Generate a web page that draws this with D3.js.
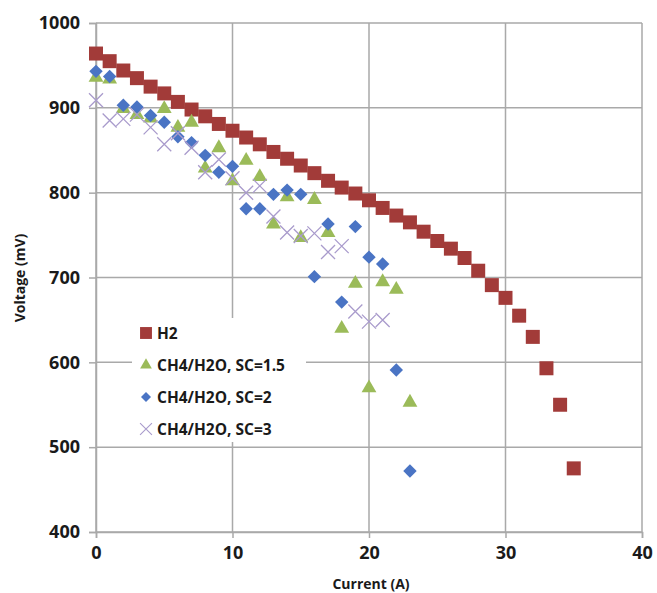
<!DOCTYPE html>
<html>
<head>
<meta charset="utf-8">
<script src="https://cdn.jsdelivr.net/npm/d3@7/dist/d3.min.js"></script>
<style>
  html, body { margin: 0; padding: 0; background: #fff; }
  svg { display: block; }
</style>
</head>
<body>
<svg id="chart" width="657" height="593"></svg>
<script>
// ---- data ----
const h2X = d3.range(0, 36);
const h2V = [964, 955, 944, 935, 925, 917, 907, 898, 890, 881, 873, 865, 857, 848, 840, 832, 823, 814, 806, 799, 791, 782, 773, 765, 754, 743, 734, 723, 708, 691, 676, 655, 630, 593, 550, 475];

const sc15X = d3.range(0, 24);
const sc15V = [937, 935, 900, 893, 889, 900, 878, 884, 830, 854, 815, 839, 820, 764, 796, 748, 793, 754, 641, 694, 571, 696, 687, 554];

const sc2X = d3.range(0, 24);
const sc2V = [943, 937, 903, 901, 891, 883, 866, 859, 844, 824, 831, 781, 781, 798, 803, 798, 701, 763, 671, 760, 724, 716, 591, 472];

const sc3X = d3.range(0, 22);
const sc3V = [909, 885, 887, 892, 877, 857, 870, 853, 824, 839, 817, 800, 808, 772, 753, 749, 752, 730, 737, 660, 648, 650];

const seriesNames = ["H2", "CH4/H2O, SC=1.5", "CH4/H2O, SC=2", "CH4/H2O, SC=3"];
const xTicks = [0, 10, 20, 30, 40];
const yTicks = [400, 500, 600, 700, 800, 900, 1000];

// ---- layout ----
const W = 657, H = 593;
const m = { left: 96, right: 15, top: 23, bottom: 61 };
const svg = d3.select("#chart");

const x = d3.scaleLinear().domain([0, 40]).range([m.left, W - m.right]);
const y = d3.scaleLinear().domain([400, 1000]).range([H - m.bottom, m.top]);

const gridColor = "#a9a9a9";
const font = "'Open Sans', 'Liberation Sans', sans-serif";

// gridlines
svg.append("g").selectAll("line.h").data(yTicks).join("line")
  .attr("x1", x(0)).attr("x2", x(40))
  .attr("y1", d => y(d)).attr("y2", d => y(d))
  .attr("stroke", gridColor).attr("stroke-width", 1.5);
svg.append("g").selectAll("line.v").data(xTicks).join("line")
  .attr("y1", y(400)).attr("y2", y(1000))
  .attr("x1", d => x(d)).attr("x2", d => x(d))
  .attr("stroke", gridColor).attr("stroke-width", 1.5);

// axes
const xAxis = d3.axisBottom(x).tickValues(xTicks).tickFormat(d3.format("d")).tickSize(6).tickPadding(8);
const yAxis = d3.axisLeft(y).tickValues(yTicks).tickFormat(d3.format("d")).tickSize(7).tickPadding(9);

const gx = svg.append("g").attr("transform", `translate(0,${y(400)})`).call(xAxis);
const gy = svg.append("g").attr("transform", `translate(${x(0)},0)`).call(yAxis);
[gx, gy].forEach(g => {
  g.select(".domain").attr("stroke", gridColor).attr("stroke-width", 1.5);
  g.selectAll(".tick line").attr("stroke", gridColor).attr("stroke-width", 1.5);
  g.selectAll(".tick text").attr("fill", "#1a1a1a")
    .style("font-family", font).style("font-size", "18px").style("font-weight", 700);
});

// axis titles
svg.append("text").attr("x", 371).attr("y", 589).attr("text-anchor", "middle")
  .style("font-family", font).style("font-size", "14px").style("font-weight", 700)
  .attr("fill", "#1a1a1a").text("Current (A)");
svg.append("text").attr("transform", "translate(25,278) rotate(-90)").attr("text-anchor", "middle")
  .style("font-family", font).style("font-size", "14px").style("font-weight", 700)
  .attr("fill", "#1a1a1a").text("Voltage (mV)");

// markers
const colH2 = "#a23b39", col15 = "#9bbb59", col2 = "#4a74c4", col3 = "#a99bcc";
const squarePath = d3.symbol().type(d3.symbolSquare).size(196)();
const triPath = d3.symbol().type(d3.symbolTriangle).size(95)();
const diaPath = d3.symbol().type(d3.symbolSquare).size(90)();
const crossPath = "M-7,-7L7,7M-7,7L7,-7";

function zip(xs, vs) { return xs.map((d, i) => ({ x: d, v: vs[i] })); }

const plot = svg.append("g");
plot.selectAll("path.h2").data(zip(h2X, h2V)).join("path")
  .attr("d", squarePath).attr("fill", colH2)
  .attr("transform", d => `translate(${x(d.x)},${y(d.v)})`);
plot.selectAll("path.s15").data(zip(sc15X, sc15V)).join("path")
  .attr("d", triPath).attr("fill", col15)
  .attr("transform", d => `translate(${x(d.x)},${y(d.v) + 1})`);
plot.selectAll("path.s2").data(zip(sc2X, sc2V)).join("path")
  .attr("d", diaPath).attr("fill", col2)
  .attr("transform", d => `translate(${x(d.x)},${y(d.v)}) rotate(45)`);
plot.selectAll("path.s3").data(zip(sc3X, sc3V)).join("path")
  .attr("d", crossPath).attr("fill", "none").attr("stroke", col3).attr("stroke-width", 1.3)
  .attr("transform", d => `translate(${x(d.x)},${y(d.v)})`);

// legend
const lg = svg.append("g");
lg.append("rect").attr("x", 132).attr("y", 318).attr("width", 174).attr("height", 124).attr("fill", "#fff");
const items = [
  { name: seriesNames[0], d: squarePath, fill: colH2, rot: 0, stroke: null },
  { name: seriesNames[1], d: d3.symbol().type(d3.symbolTriangle).size(60)(), fill: col15, rot: 0, stroke: null },
  { name: seriesNames[2], d: d3.symbol().type(d3.symbolSquare).size(50)(), fill: col2, rot: 45, stroke: null },
  { name: seriesNames[3], d: crossPath, fill: "none", rot: 0, stroke: col3 }
];
const ly = [333, 365, 397, 429];
const li = lg.selectAll("g.item").data(items).join("g")
  .attr("transform", (d, i) => `translate(146,${ly[i]})`);
li.append("path").attr("d", d => d.d).attr("fill", d => d.fill)
  .attr("stroke", d => d.stroke || "none").attr("stroke-width", 1.3)
  .attr("transform", (d, i) => `rotate(${d.rot})${i === 0 ? " scale(0.85)" : ""}${i === 3 ? " scale(0.85)" : ""}`);
li.append("text").attr("x", 11).attr("y", 6)
  .style("font-family", font).style("font-size", "15.5px").style("font-weight", 700)
  .attr("fill", "#1a1a1a").text(d => d.name);
</script>
</body>
</html>
